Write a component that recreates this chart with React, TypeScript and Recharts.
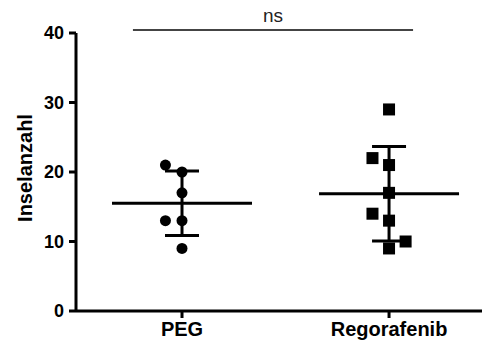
import React from 'react';
import {
  ComposedChart,
  Scatter,
  XAxis,
  YAxis,
  ErrorBar,
  ReferenceLine,
} from 'recharts';

const groups = ['PEG', 'Regorafenib'];
const pegValues = [21, 20, 17, 13, 13, 9];
const pegColumns = [-1, 0, 0, -1, 0, 0];
const regoValues = [29, 22, 21, 17, 14, 13, 10, 9];
const regoColumns = [0, -1, 0, 0, -1, 0, 1, 0];
const yTicks = [0, 10, 20, 30, 40];
const xTicks = [1, 2];
const significance = 'ns';

const FONT = '"Liberation Sans", Arial, sans-serif';
const JITTER = 0.08;

const toPoints = (values: number[], cols: number[], g: number) =>
  values.map((v, i) => ({ x: g + cols[i] * JITTER, y: v }));

const pegPoints = toPoints(pegValues, pegColumns, 1);
const regoPoints = toPoints(regoValues, regoColumns, 2);

const stats = (values: number[]) => {
  const mean = values.reduce((a, b) => a + b, 0) / values.length;
  const sd = Math.sqrt(
    values.reduce((a, b) => a + (b - mean) ** 2, 0) / (values.length - 1)
  );
  return { mean, sd };
};

const summary = [pegValues, regoValues].map((vals, i) => {
  const { mean, sd } = stats(vals);
  return { x: i + 1, y: mean, sd };
});

const Dot = (props: any) => (
  <circle cx={props.cx} cy={props.cy} r={5.5} fill="#000" />
);

const Square = (props: any) => (
  <rect x={props.cx - 6} y={props.cy - 6} width={12} height={12} fill="#000" />
);

const MeanLine = (props: any) => (
  <line
    x1={props.cx - 70}
    x2={props.cx + 70}
    y1={props.cy}
    y2={props.cy}
    stroke="#000"
    strokeWidth={3}
  />
);

const YLabel = (props: any) => {
  const vb = props.viewBox || { x: 16, y: 33, width: 60, height: 278 };
  const x = vb.x + 9;
  const y = vb.y + vb.height / 2 - 4;
  return (
    <text
      x={x}
      y={y}
      transform={`rotate(-90 ${x} ${y})`}
      textAnchor="middle"
      dominantBaseline="central"
      fontFamily={FONT}
      fontWeight="bold"
      fontSize={20}
      fill="#000"
    >
      Inselanzahl
    </text>
  );
};

export default function App() {
  return (
    <div style={{ position: 'absolute', left: 0, top: 0 }}>
      <ComposedChart
        width={482}
        height={347}
        margin={{ top: 33, right: 0, left: 16, bottom: 0 }}
      >
        <XAxis
          type="number"
          dataKey="x"
          domain={[0.488, 2.449]}
          allowDataOverflow
          ticks={xTicks}
          tickFormatter={(v: number) => groups[v - 1]}
          height={36}
          tickSize={7}
          tickMargin={4}
          axisLine={{ stroke: '#000', strokeWidth: 3 }}
          tickLine={{ stroke: '#000', strokeWidth: 3 }}
          tick={{ fill: '#000', fontSize: 20, fontWeight: 'bold', fontFamily: FONT }}
        />
        <YAxis
          type="number"
          dataKey="y"
          domain={[0, 40]}
          ticks={yTicks}
          width={60}
          tickSize={7}
          tickMargin={5}
          axisLine={{ stroke: '#000', strokeWidth: 3 }}
          tickLine={{ stroke: '#000', strokeWidth: 3 }}
          tick={{ fill: '#000', fontSize: 18, fontWeight: 'bold', fontFamily: FONT }}
          label={{ content: (p: any) => <YLabel {...p} /> }}
        />
        <Scatter
          data={summary}
          shape={MeanLine}
          isAnimationActive={false}
          legendType="none"
        >
          <ErrorBar
            dataKey="sd"
            direction="y"
            width={17}
            stroke="#000"
            strokeWidth={3}
            isAnimationActive={false}
          />
        </Scatter>
        <Scatter data={pegPoints} shape={Dot} isAnimationActive={false} />
        <Scatter data={regoPoints} shape={Square} isAnimationActive={false} />
        <ReferenceLine
          segment={[
            { x: 0.763, y: 40.43 },
            { x: 2.116, y: 40.43 },
          ]}
          ifOverflow="visible"
          stroke="#444"
          strokeWidth={2}
          label={{
            value: significance,
            position: 'top',
            offset: 8,
            fill: '#222',
            fontSize: 19,
            fontFamily: FONT,
          }}
        />
      </ComposedChart>
    </div>
  );
}
